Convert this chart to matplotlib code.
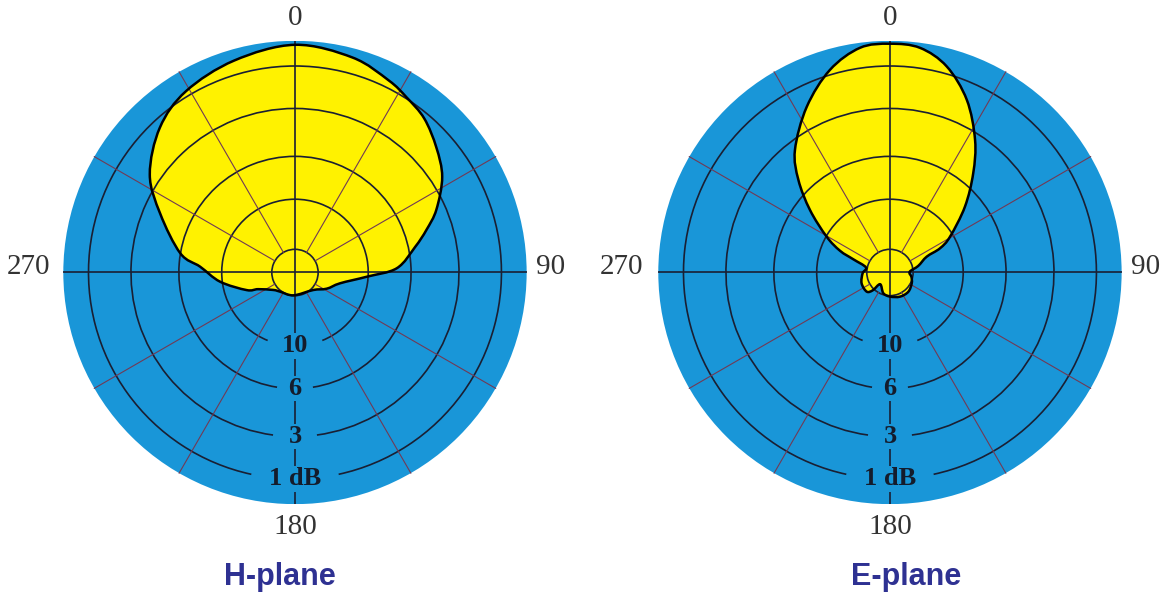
import numpy as np
import matplotlib.pyplot as plt
from matplotlib.path import Path
from matplotlib.patches import PathPatch, Circle, Arc

# Relative level in dB below the peak, clockwise from 0 deg
h_angles = [0, 15, 26, 32.5, 40, 48.5, 57, 66, 72, 78, 87.6, 93.4, 103.5, 117,
            134, 184, 218, 231, 245.7, 250, 263, 273.5, 279.5, 293.5, 304, 317, 329, 344]
h_level_db = [0.15, 0.35, 0.7, 0.95, 1.23, 1.78, 2.41, 3.5, 4.48, 5.51, 7.13, 10.17,
              13.98, 16.25, 19.25, 20.09, 19.58, 18.42, 15.14, 13.07, 9.74, 7.74,
              5.99, 3.96, 2.43, 1.36, 0.79, 0.43]

e_angles = [0, 7.6, 15.4, 24, 32.7, 40, 48.7, 59.2, 64.2, 66.7, 77, 88, 102, 116.5,
            136.4, 157.5, 180, 197.8, 220, 224, 230.5, 249, 268.3, 282, 289.8,
            293.5, 299.5, 308, 315.3, 322.2, 333.3, 343.5, 352.4]
e_level_db = [0.11, 0.19, 0.7, 1.77, 3.35, 5.05, 7.31, 10.4, 12.4, 15.24, 18.06,
              21.4, 20.45, 19.58, 18.79, 18.94, 19.66, 20.54, 23.61, 19.41, 17.72,
              17.65, 18.56, 19.49, 15.49, 12.58, 10.06, 7.17, 5.01, 3.49, 1.94,
              0.8, 0.19]

ring_db = [1, 3, 6, 10, 20]
ring_labels = {1: '1 dB', 3: '3', 6: '6', 10: '10'}
label_gap_px = {1: 44, 3: 22, 6: 18, 10: 28}
spoke_angles = [30, 60, 120, 150, 210, 240, 300, 330]
axis_labels = ['0', '90', '180', '270']
titles = ['H-plane', 'E-plane']

BLUE = '#1996d8'
YELLOW = '#fff200'
SPOKE = '#713a55'
RING = '#1a1f33'
TEXT = '#333333'
TITLE = '#2e3192'
R_PX = 231.7


def db_to_r(db):
    return 10 ** (-np.asarray(db, dtype=float) / 20.0)


def to_xy(angle_deg, r):
    a = np.deg2rad(angle_deg)
    return r * np.sin(a), r * np.cos(a)


def smooth_closed_path(x, y):
    # closed Catmull-Rom curve through the points, as cubic Bezier segments
    p = np.column_stack([x, y])
    n = len(p)
    verts = [p[0]]
    codes = [Path.MOVETO]
    for i in range(n):
        p0, p1, p2, p3 = p[i - 1], p[i], p[(i + 1) % n], p[(i + 2) % n]
        verts += [p1 + (p2 - p0) / 6.0, p2 - (p3 - p1) / 6.0, p2]
        codes += [Path.CURVE4] * 3
    verts.append(p[0])
    codes.append(Path.CLOSEPOLY)
    return Path(np.array(verts), codes)


def draw_pattern(ax, angles, level_db):
    x, y = to_xy(np.asarray(angles), db_to_r(level_db))
    path = smooth_closed_path(x, y)
    ax.add_patch(PathPatch(path, facecolor=YELLOW, edgecolor='none', zorder=1))
    ax.add_patch(PathPatch(path, facecolor='none', edgecolor='black', lw=1.8,
                           joinstyle='round', zorder=4))


def draw_grid(ax):
    ax.add_patch(Circle((0, 0), 1, facecolor=BLUE, edgecolor='none', zorder=0))
    for db in ring_db:
        r = db_to_r(db)
        gap = np.rad2deg(label_gap_px.get(db, 0) / (r * R_PX))
        ax.add_patch(Arc((0, 0), 2 * r, 2 * r, theta1=270 + gap, theta2=630 - gap,
                         color=RING, lw=1.2, zorder=2))
    r0 = db_to_r(20)
    for a in spoke_angles:
        x, y = to_xy(a, np.array([r0, 1.0]))
        ax.plot(x, y, color=SPOKE, lw=0.8, zorder=2)
    ax.plot([-1, 1], [0, 0], color=RING, lw=1.2, zorder=2)
    ax.plot([0, 0], [-1, 1], color=RING, lw=1.2, zorder=2)
    for db, txt in ring_labels.items():
        ax.text(0, -db_to_r(db), txt, ha='center', va='center', fontsize=19,
                fontweight='bold', family='Liberation Serif', color='#141c2c',
                zorder=5, bbox=dict(facecolor=BLUE, edgecolor='none', pad=1.0))


def draw_axis_labels(ax, r_270):
    pos = [(0, 1.1), (88.8, 1.105), (180, 1.1), (271.2, r_270)]
    for (a, r), txt in zip(pos, axis_labels):
        x, y = to_xy(a, r)
        ax.text(x, y, txt, ha='center', va='center', fontsize=21,
                family='Liberation Serif', color=TEXT, clip_on=False)


fig = plt.figure(figsize=(11.68, 5.93), dpi=100)

panels = [(0.0542, h_angles, h_level_db, 1.15, 0.2397),
          (0.5636, e_angles, e_level_db, 1.16, 0.7757)]

for (left, angles, level_db, r_270, tx), title in zip(panels, titles):
    ax = fig.add_axes([left, 0.1498, 0.3967, 0.7814])
    ax.set_xlim(-1, 1)
    ax.set_ylim(-1, 1)
    ax.set_aspect('equal')
    ax.axis('off')

    draw_grid(ax)
    draw_pattern(ax, angles, level_db)
    draw_axis_labels(ax, r_270)

    fig.text(tx, 0.0135, title, ha='center', va='baseline', fontsize=22,
             fontweight='bold', family='Liberation Sans', color=TITLE)

fig.savefig('out.png', dpi=100)
